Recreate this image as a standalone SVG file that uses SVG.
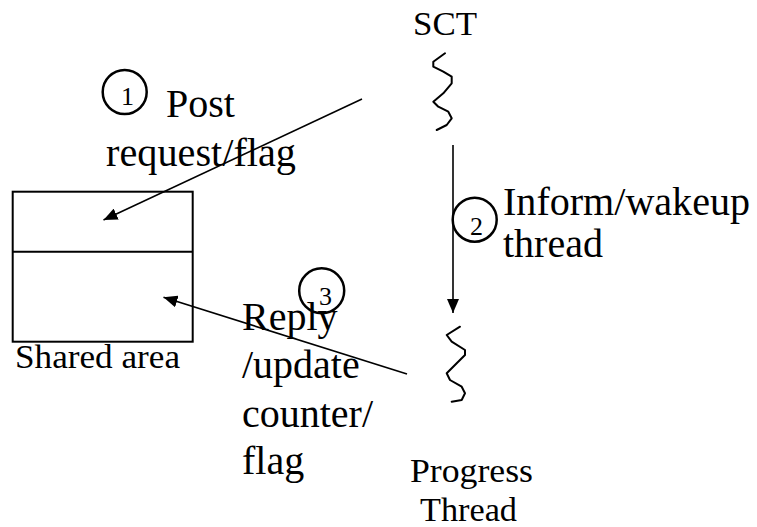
<svg xmlns="http://www.w3.org/2000/svg" width="757" height="527" viewBox="0 0 757 527" font-family="'Liberation Serif', 'DejaVu Serif', serif">
  <style>
    .lbl { font-size: 40px; fill: #000; }
    .cap { font-size: 34px; fill: #000; }
    .num { font-size: 26px; fill: #000; text-anchor: middle; }
    .ring { fill: none; stroke: #000; stroke-width: 2.5; }
    .wave { fill: none; stroke: #000; stroke-width: 2; stroke-linejoin: round; stroke-linecap: round; }
    .conn { fill: none; stroke: #000; stroke-width: 1.6; }
  </style>
  <defs>
    <marker id="head" viewBox="0 0 14 12" refX="14" refY="6" markerWidth="14" markerHeight="12" markerUnits="userSpaceOnUse" orient="auto">
      <path d="M0,0 L14,6 L0,12 Z" fill="#000"/>
    </marker>
  </defs>
  <rect width="757" height="527" fill="#fff"/>

  <!-- shared memory area -->
  <g id="shared-area">
    <rect x="12.7" y="191.7" width="180" height="150" fill="none" stroke="#000" stroke-width="2"/>
    <line x1="12.7" y1="251.7" x2="192.7" y2="251.7" stroke="#000" stroke-width="2"/>
    <text class="cap" x="15" y="368" font-size="30" font-family="Liberation Serif" textLength="165" lengthAdjust="spacingAndGlyphs">Shared area</text>
  </g>

  <!-- SCT thread -->
  <g id="sct">
    <text class="cap" x="413" y="35" font-family="Liberation Serif" textLength="64" lengthAdjust="spacingAndGlyphs">SCT</text>
    <polyline class="wave" points="445,53.3 433.3,61.7 433.3,66.7 443.3,71.7 451.7,76.7 451.7,83.3 443.3,93.3 433.3,101.7 438.3,106.7 448.3,111.7 451.7,118.3 446.7,125 436.7,130"/>
  </g>

  <!-- progress thread -->
  <g id="progress-thread">
    <polyline class="wave" points="460,326.7 446.7,335 451.7,341.7 465,350 465,355 456.7,363.3 446.7,373.3 450,380 461.7,386.7 465,393.3 461.7,400 451.7,401.7"/>
    <text class="cap" x="410" y="482" font-family="Liberation Serif" textLength="123" lengthAdjust="spacingAndGlyphs">Progress</text>
    <text class="cap" x="420" y="521" font-family="Liberation Serif" textLength="97" lengthAdjust="spacingAndGlyphs">Thread</text>
  </g>

  <!-- step 1 -->
  <g id="step1">
    <circle class="ring" cx="124.7" cy="92" r="22"/>
    <text class="num" x="127.5" y="105" font-family="Liberation Serif">1</text>
    <text class="lbl" x="166" y="117" font-family="Liberation Serif">Post</text>
    <text class="lbl" x="106" y="166" font-family="Liberation Serif" textLength="190" lengthAdjust="spacingAndGlyphs">request/flag</text>
  </g>

  <!-- step 2 -->
  <g id="step2">
    <circle class="ring" cx="474.7" cy="219.7" r="22"/>
    <text class="num" x="476.5" y="235" font-family="Liberation Serif">2</text>
    <text class="lbl" x="503" y="215" font-family="Liberation Serif" textLength="247" lengthAdjust="spacingAndGlyphs">Inform/wakeup</text>
    <text class="lbl" x="503" y="257" font-family="Liberation Serif">thread</text>
  </g>

  <!-- step 3 -->
  <g id="step3">
    <circle class="ring" cx="321.7" cy="290.8" r="22.5"/>
    <text class="num" x="325.5" y="305" font-family="Liberation Serif">3</text>
    <text class="lbl" x="242" y="330" font-family="Liberation Serif">Reply</text>
    <text class="lbl" x="242" y="378" font-family="Liberation Serif">/update</text>
    <text class="lbl" x="242" y="427" font-family="Liberation Serif">counter/</text>
    <text class="lbl" x="242" y="474" font-family="Liberation Serif">flag</text>
  </g>

  <!-- connectors -->
  <g id="connectors">
    <line class="conn" x1="362" y1="99" x2="103.5" y2="220" marker-end="url(#head)"/>
    <line class="conn" x1="453" y1="145" x2="453" y2="313" marker-end="url(#head)"/>
    <line class="conn" x1="407" y1="374" x2="163.5" y2="297.3" marker-end="url(#head)"/>
  </g>
</svg>
